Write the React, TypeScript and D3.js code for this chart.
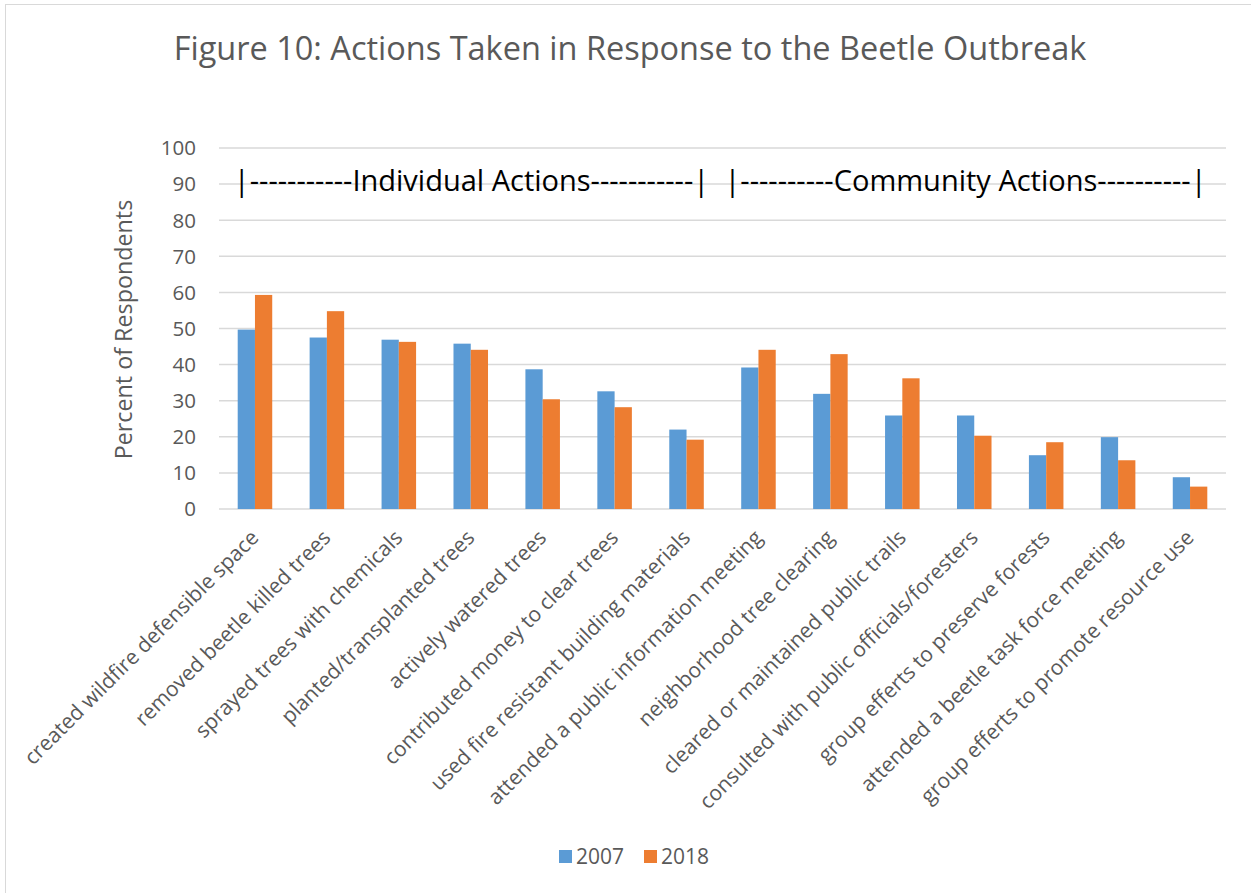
import { scaleBand, scaleLinear } from "d3";

const categories = [
  "created wildfire defensible space",
  "removed beetle killed trees",
  "sprayed trees with chemicals",
  "planted/transplanted trees",
  "actively watered trees",
  "contributed money to clear trees",
  "used fire resistant building materials",
  "attended a public information meeting",
  "neighborhood tree clearing",
  "cleared or maintained public trails",
  "consulted with public officials/foresters",
  "group efferts to preserve forests",
  "attended a beetle task force meeting",
  "group efferts to promote resource use",
];

const values2007 = [49.7, 47.5, 46.9, 45.8, 38.7, 32.6, 22.0, 39.2, 31.9, 25.9, 25.9, 14.9, 19.9, 8.8];
const values2018 = [59.3, 54.8, 46.3, 44.1, 30.4, 28.2, 19.2, 44.1, 42.9, 36.2, 20.3, 18.5, 13.5, 6.2];

const seriesNames = ["2007", "2018"];
const yTicks = [0, 10, 20, 30, 40, 50, 60, 70, 80, 90, 100];

const titleText = "Figure 10: Actions Taken in Response to the Beetle Outbreak";
const individualNote = "|-----------Individual Actions-----------|";
const communityNote = "|----------Community Actions----------|";

const W = 1251;
const H = 893;
const FONT = "'Open Sans', 'Noto Sans', sans-serif";
const TEXT = "#595959";
const COLORS = ["#5B9BD5", "#ED7D31"];

const plot = { left: 219, right: 1226, top: 148, bottom: 509 };

export default function App() {
  const x = scaleBand<string>().domain(categories).range([plot.left, plot.right]);
  const groupWidth = x.bandwidth() * 0.48;
  const inner = scaleBand<string>().domain(seriesNames).range([0, groupWidth]);
  const groupOffset = (x.bandwidth() - groupWidth) / 2;
  const y = scaleLinear().domain([0, 100]).range([plot.bottom, plot.top]);

  const series = [values2007, values2018];

  return (
    <svg
      width={W}
      height={H}
      style={{ position: "absolute", left: 0, top: 0, background: "#fff" }}
      fontFamily={FONT}
    >
      {/* chart frame, right/bottom edges are off-canvas */}
      <rect x={5.5} y={4.5} width={W + 20} height={H + 20} fill="#fff" stroke="#D9D9D9" strokeWidth={1} />

      <text x={630} y={60} textAnchor="middle" fontSize={32.5} fill={TEXT}>
        {titleText}
      </text>

      {/* grid */}
      {yTicks.map((t) => (
        <line key={t} x1={plot.left} x2={plot.right} y1={y(t)} y2={y(t)} stroke="#D9D9D9" strokeWidth={1.5} />
      ))}

      {/* y tick labels */}
      {yTicks.map((t) => (
        <text key={t} x={196} y={y(t)} dy="0.36em" textAnchor="end" fontSize={20.5} fill={TEXT}>
          {t}
        </text>
      ))}

      <text
        transform={`translate(132,${(plot.top + plot.bottom) / 2 + 1}) rotate(-90)`}
        textAnchor="middle"
        fontSize={23.3}
        fill={TEXT}
      >
        Percent of Respondents
      </text>

      {/* bars */}
      {categories.map((c, i) => (
        <g key={c} transform={`translate(${(x(c) ?? 0) + groupOffset},0)`}>
          {seriesNames.map((s, j) => (
            <rect
              key={s}
              x={inner(s)}
              y={y(series[j][i])}
              width={inner.bandwidth()}
              height={y(0) - y(series[j][i])}
              fill={COLORS[j]}
            />
          ))}
        </g>
      ))}

      {/* group annotations */}
      <text x={471.5} y={190.5} textAnchor="middle" fontSize={29} fill="#000">
        {individualNote}
      </text>
      <text x={965.5} y={190.5} textAnchor="middle" fontSize={29} fill="#000">
        {communityNote}
      </text>

      {/* x labels */}
      {categories.map((c) => {
        const cx = (x(c) ?? 0) + x.bandwidth() / 2;
        return (
          <text
            key={c}
            transform={`translate(${cx + 5},539) rotate(-45)`}
            textAnchor="end"
            fontSize={21}
            fill={TEXT}
          >
            {c}
          </text>
        );
      })}

      {/* legend */}
      {seriesNames.map((s, j) => (
        <g key={s} transform={`translate(${559 + j * 85},850)`}>
          <rect width={13} height={13} fill={COLORS[j]} />
          <text x={17} y={14} fontSize={21} fill={TEXT}>
            {s}
          </text>
        </g>
      ))}
    </svg>
  );
}
